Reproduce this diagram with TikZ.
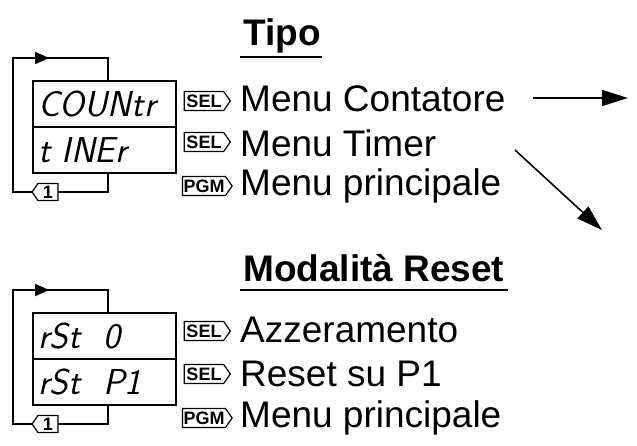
\documentclass[tikz,border=0pt]{standalone}
\usepackage{fontspec}
\setmainfont{Liberation Sans}
\usetikzlibrary{shapes.symbols,arrows.meta}
\begin{document}
\begin{tikzpicture}[x=1pt,y=-1pt,
  disp/.style={draw,line width=1.8pt,minimum width=143pt,minimum height=46pt,inner sep=0pt,anchor=north west},
  dtxt/.style={font=\fontsize{36}{36}\selectfont\itshape\sffamily,anchor=west,inner sep=0pt},
  btn/.style={draw,line width=1.2pt,signal,signal to=east,signal pointer angle=110,minimum width=46pt,minimum height=19pt,inner sep=1pt,font=\fontsize{18}{18}\selectfont\bfseries},
  key/.style={draw,line width=1.2pt,signal,signal to=west,signal pointer angle=110,minimum width=26pt,minimum height=17pt,inner sep=1pt,font=\fontsize{18}{18}\selectfont\bfseries,fill=white},
  lbl/.style={font=\fontsize{37}{37}\selectfont,anchor=west,inner sep=0pt},
  ttl/.style={font=\fontsize{37}{37}\selectfont\bfseries,anchor=west,inner sep=0pt},
  loop/.style={line width=1.8pt},
  arr/.style={line width=1.6pt,-{Triangle[length=26pt,width=16pt]}}]
\useasboundingbox (0,0) rectangle (637,446);
% ---------- top group
\node[disp] (d1) at (32,80) {};
\node[disp] (d2) at (32,126) {};
\node[dtxt] (t1) at (38,104) {COUNtr};
\node[dtxt] (t2) at (38,150) {t INEr};
\coordinate (l1a) at (108,80);
\coordinate (l1b) at (108,58);
\coordinate (l1c) at (13,58);
\coordinate (l1d) at (13,192);
\coordinate (l1e) at (108,192);
\coordinate (l1f) at (108,172);
\draw[loop] (l1a) -- (l1b) -- (l1c) -- (l1d) -- (l1e) -- (l1f);
\draw[loop,-{Triangle[length=14pt,width=12pt]}] (l1c) -- ([xshift=36pt]l1c);
\node[key] (k1) at (48,192) {1};
\node[btn] (s1) at (204,101) {SEL};
\node[btn] (s2) at (204,142) {SEL};
\node[btn] (p1) at (204,186) {PGM};
\node[ttl] (h1) at (243,36) {Tipo};
\draw[line width=1.5pt] (240,57) -- (322,57);
\node[lbl] (m1) at (240,99) {Menu Contatore};
\node[lbl] (m2) at (240,143) {Menu Timer};
\node[lbl] (m3) at (240,186) {Menu principale};
\coordinate (a1s) at (533,98);
\coordinate (a1e) at (628,98);
\coordinate (a2s) at (515,150);
\coordinate (a2e) at (602,230);
\draw[arr] (a1s) -- (a1e);
\draw[arr] (a2s) -- (a2e);
% ---------- bottom group
\node[disp] (d3) at (32,312) {};
\node[disp] (d4) at (32,358) {};
\node[dtxt] (t3) at (38,336) {rSt\ \ 0};
\node[dtxt] (t4) at (38,382) {rSt\ \ P1};
\coordinate (l2a) at (108,312);
\coordinate (l2b) at (108,290);
\coordinate (l2c) at (13,290);
\coordinate (l2d) at (13,424);
\coordinate (l2e) at (108,424);
\coordinate (l2f) at (108,404);
\draw[loop] (l2a) -- (l2b) -- (l2c) -- (l2d) -- (l2e) -- (l2f);
\draw[loop,-{Triangle[length=14pt,width=12pt]}] (l2c) -- ([xshift=36pt]l2c);
\node[key] (k2) at (48,424) {1};
\node[btn] (s3) at (204,331) {SEL};
\node[btn] (s4) at (204,374) {SEL};
\node[btn] (p2) at (204,418) {PGM};
\node[ttl] (h2) at (243,268) {Modalità Reset};
\draw[line width=1.5pt] (240,290) -- (508,290);
\node[lbl] (m4) at (240,330) {Azzeramento};
\node[lbl] (m5) at (240,374) {Reset su P1};
\node[lbl] (m6) at (240,418) {Menu principale};
\end{tikzpicture}
\end{document}
